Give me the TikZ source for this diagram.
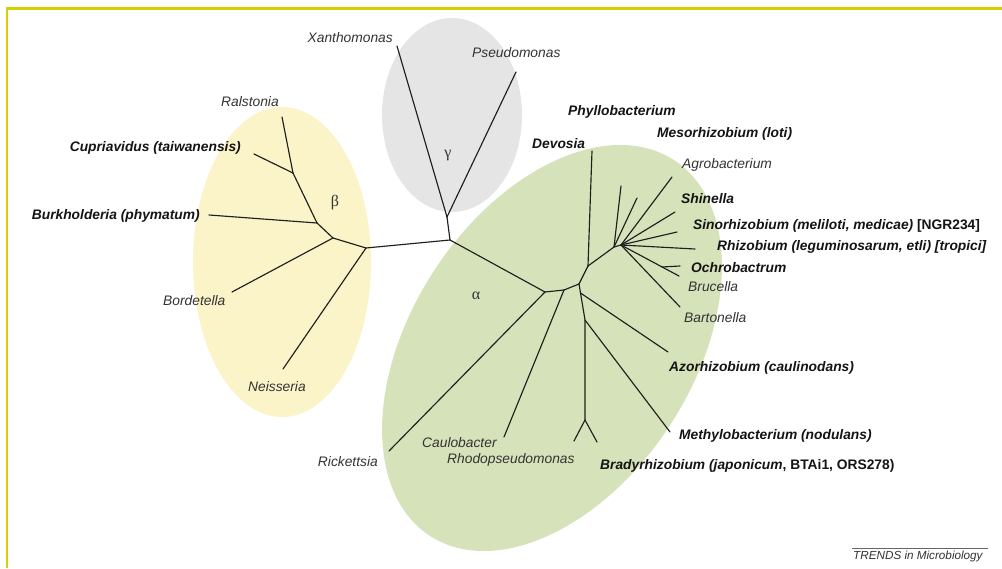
\documentclass[tikz,border=0pt]{standalone}
\usepackage{fontspec}
\setmainfont{Liberation Sans}
\newfontfamily\grkfont{Liberation Serif}
\begin{document}
\begin{tikzpicture}[x=1pt,y=-1pt,
  lab/.style={inner sep=0pt, text=black!80, font=\fontsize{13.8}{16}\selectfont\itshape},
  blab/.style={inner sep=0pt, text=black!92, font=\fontsize{13.8}{16}\selectfont\bfseries\itshape},
  greek/.style={inner sep=0pt, text=black!80, font=\grkfont\fontsize{16}{18}\selectfont},
  trends/.style={inner sep=0pt, text=black!80, font=\fontsize{11.7}{14}\selectfont\itshape},
  br/.style={draw=black!88, line width=1.15pt, line cap=round, line join=round}]
\definecolor{frameyel}{RGB}{215,208,0}
\definecolor{betafill}{RGB}{250,244,200}
\definecolor{gamfill}{RGB}{229,229,229}
\definecolor{alpfill}{RGB}{214,226,185}
\useasboundingbox (0,0) rectangle (1002,568);
\fill[white] (0,0) rectangle (1002,568);
% frame
\draw[frameyel, line width=2.4pt] (7,568) -- (7,8.5) -- (1002,8.5);
% clade ellipses
\fill[betafill] (282,262) ellipse [x radius=89, y radius=155];
\fill[gamfill] (452,115) ellipse [x radius=70, y radius=97];
\fill[alpfill] (552,348) ellipse [x radius=224, y radius=141, rotate=57];
% coordinates of the tree
\coordinate (A0) at (450,240);
\coordinate (G) at (447,217);
\coordinate (Xe) at (397,46);
\coordinate (Pe) at (516,72);
\coordinate (B0) at (366,248);
\coordinate (B1) at (333,238);
\coordinate (B2) at (317,223);
\coordinate (B3) at (293,173);
\coordinate (Rae) at (282,117);
\coordinate (Cue) at (254,154);
\coordinate (Bue) at (209,215);
\coordinate (Boe) at (232,292);
\coordinate (Nee) at (283,369);
\coordinate (A1) at (545,292);
\coordinate (Rie) at (389,451);
\coordinate (A2) at (564,290);
\coordinate (Cae) at (504,437);
\coordinate (A3) at (579,284);
\coordinate (D) at (588,266);
\coordinate (De) at (592,151);
\coordinate (R1) at (614,247);
\coordinate (R) at (621,245);
\coordinate (Ph1) at (621,186);
\coordinate (Ph2) at (637,198);
\coordinate (Age) at (672,177);
\coordinate (She) at (675,212);
\coordinate (Sie) at (677,232);
\coordinate (Rhe) at (695,249);
\coordinate (Bre) at (679,276);
\coordinate (O) at (662,267);
\coordinate (Oce) at (680,266);
\coordinate (Bae) at (680,307);
\coordinate (Az0) at (580.5,293);
\coordinate (Aze) at (668,352);
\coordinate (M) at (585,320);
\coordinate (Mee) at (670,432);
\coordinate (Bn) at (585,420);
\coordinate (Bb1) at (574,441);
\coordinate (Bb2) at (597,442);
% branches
\draw[br] (B0) -- (A0);
\draw[br] (A0) -- (G);
\draw[br] (G) -- (Xe);
\draw[br] (G) -- (Pe);
\draw[br] (B0) -- (B1);
\draw[br] (B1) -- (B2);
\draw[br] (B2) -- (B3);
\draw[br] (B3) -- (Rae);
\draw[br] (B3) -- (Cue);
\draw[br] (B2) -- (Bue);
\draw[br] (B1) -- (Boe);
\draw[br] (B0) -- (Nee);
\draw[br] (A0) -- (A1);
\draw[br] (A1) -- (Rie);
\draw[br] (A1) -- (A2);
\draw[br] (A2) -- (Cae);
\draw[br] (A2) -- (A3);
\draw[br] (A3) -- (D);
\draw[br] (D) -- (De);
\draw[br] (D) -- (R1) -- (R);
\draw[br] (R1) -- (Ph1);
\draw[br] (R1) -- (Ph2);
\draw[br] (R) -- (Age);
\draw[br] (R) -- (She);
\draw[br] (R) -- (Sie);
\draw[br] (R) -- (Rhe);
\draw[br] (R) -- (Bre);
\draw[br] (O) -- (Oce);
\draw[br] (R) -- (Bae);
\draw[br] (A3) -- (Az0) -- (M) -- (Bn);
\draw[br] (Az0) -- (Aze);
\draw[br] (M) -- (Mee);
\draw[br] (Bn) -- (Bb1);
\draw[br] (Bn) -- (Bb2);
% labels
\node[lab, anchor=east] (xan) at (393,38) {Xanthomonas};
\node[lab, anchor=west] (pse) at (472,53) {Pseudomonas};
\node[lab, anchor=west] (ral) at (221,102) {Ralstonia};
\node[blab, anchor=east] (cup) at (241,148) {Cupriavidus (taiwanensis)};
\node[blab, anchor=east] (bur) at (200,216) {Burkholderia (phymatum)};
\node[lab, anchor=west] (bor) at (163,301) {Bordetella};
\node[lab, anchor=west] (nei) at (248,387) {Neisseria};
\node[greek] (beta) at (335,203) {β};
\node[greek] (gam) at (448,156) {γ};
\node[greek] (alp) at (476,296) {α};
\node[blab, anchor=west] (dev) at (532,144) {Devosia};
\node[blab, anchor=west] (phy) at (568,112) {Phyllobacterium};
\node[blab, anchor=west] (mes) at (657,134) {Mesorhizobium (loti)};
\node[lab, anchor=west] (agr) at (682,165) {Agrobacterium};
\node[blab, anchor=west] (shi) at (681,199) {Shinella};
\node[blab, anchor=west] (sin) at (693,226) {Sinorhizobium (meliloti, medicae) \upshape[NGR234]};
\node[blab, anchor=west] (rhi) at (717,247) {Rhizobium (leguminosarum, etli) [tropici]};
\node[blab, anchor=west] (och) at (691,268) {Ochrobactrum};
\node[lab, anchor=west] (bru) at (688,287) {Brucella};
\node[lab, anchor=west] (bar) at (684,318) {Bartonella};
\node[blab, anchor=west] (azo) at (669,368) {Azorhizobium (caulinodans)};
\node[blab, anchor=west] (met) at (679,436) {Methylobacterium (nodulans)};
\node[blab, anchor=west] (bra) at (600,466) {Bradyrhizobium (japonicum{\upshape, BTAi1, ORS278)}};
\node[lab, anchor=west] (cau) at (422,443) {Caulobacter};
\node[lab, anchor=west] (rho) at (447,460) {Rhodopseudomonas};
\node[lab, anchor=east] (ric) at (378,462) {Rickettsia};
\node[trends, anchor=west] (tre) at (853,556) {TRENDS in Microbiology};
\coordinate (tl) at (852,548);
\coordinate (tr) at (988,548);
\draw[black!60, line width=0.6pt] (tl) -- (tr);
\end{tikzpicture}
\end{document}
